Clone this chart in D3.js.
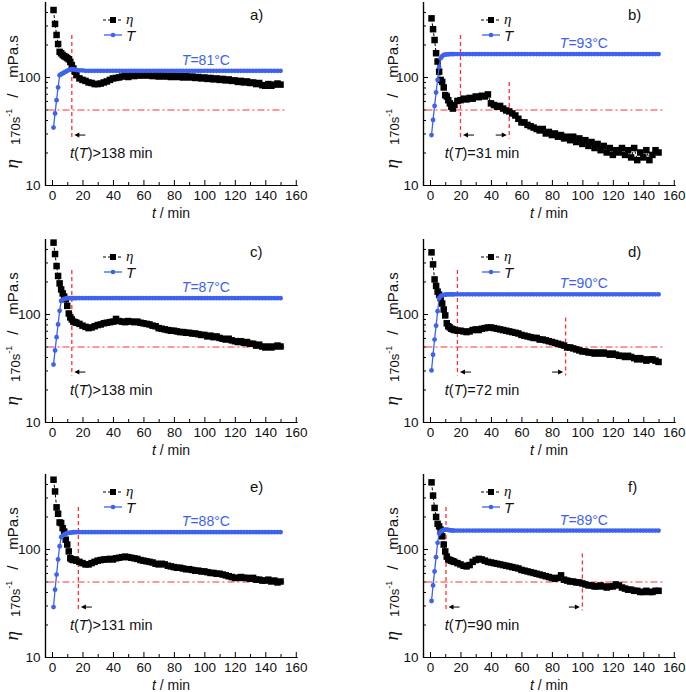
<!DOCTYPE html>
<html><head><meta charset="utf-8">
<script src="https://cdn.jsdelivr.net/npm/d3@7"></script>
<style>body{margin:0;background:#fff} svg{display:block;font-family:"Liberation Sans",Arial,sans-serif}</style>
</head><body><svg id="c" width="686" height="692"></svg>
<script>
// ---------------- data ----------------
const times = [
  1,2,3,4,5,6,7,8,9,10,
  11,12,13,14,15,16,18,20,22,24,
  26,28,30,32,34,36,38,40,42,44,
  46,48,50,52,54,56,58,60,62,64,
  66,68,70,72,74,76,78,80,82,84,
  86,88,90,92,94,96,98,100,102,104,
  106,108,110,112,114,116,118,120,122,124,
  126,128,130,132,134,136,138,140,142,144,
  146,148,150];

const etaA = [
  417,310,245,202,171,166,160,156,153,150,
  146,138,129,120,112,104,97,94,92,89,
  88,86,86,87,89,91,94,97,98,99,
  101,103,100,104,102,105,103,106,103,105,
  102,105,101,104,101,103,100,103,100,102,
  99,102,99,101,98,100,97,99,96,98,
  95,97,94,96,93,95,92,93,90,92,
  89,91,88,89,86,88,84,83,86,83,
  85,87,85];
const etaB = [
  349,277,220,166,139,112,94,90,80,68,
  66,61,57,53,51,55,60,61,63,62,
  64,63,66,65,67,66,69,57,55,53,
  54,51,49,48,46,44,41,38,38,36,
  35,34,33,32,33,30,31,29,30,28,
  29,27,28,26,28,25,27,24,26,23,
  25,22,24,21,23,20,22,19,21,20,
  22,19,21,18,22,17,20,18,21,17,
  19,21,20];
const etaC = [
  458,359,278,225,192,169,155,145,137,119,
  101,93,89,85,84,83,81,78,76,74,
  75,77,79,80,82,83,84,85,90,86,
  85,84,86,85,84,85,83,82,81,80,
  78,77,74,73,72,71,70,70,69,68,
  68,67,67,66,66,65,64,64,62,63,
  61,62,60,59,58,59,57,56,55,56,
  54,55,53,53,51,52,50,49,50,49,
  50,51,50];
const etaD = [
  372,288,209,182,161,151,140,125,110,97,
  82,77,75,73,72,71,70,70,69,68,
  69,71,72,71,73,74,75,75,74,73,
  72,71,70,69,68,67,66,64,63,62,
  61,60,60,58,58,57,56,55,54,53,
  52,51,49,49,48,47,46,45,45,44,
  44,43,44,43,44,43,42,43,42,41,
  41,40,41,40,39,38,39,38,37,38,
  38,37,36];
const etaE = [
  438,341,243,212,176,174,156,145,122,110,
  95,82,80,79,80,78,76,74,72,72,
  74,76,78,79,80,80,81,80,82,83,
  84,85,84,83,82,81,79,78,77,76,
  75,73,72,73,72,70,69,68,67,67,
  66,65,65,64,63,63,62,62,61,60,
  60,59,59,58,57,56,55,54,54,55,
  54,54,53,54,52,52,51,51,52,50,
  51,49,50];
const etaF = [
  414,312,240,198,171,162,151,131,110,95,
  85,80,79,78,77,76,74,72,70,69,
  71,76,79,81,80,78,76,75,74,73,
  72,71,70,69,68,67,66,64,63,62,
  61,60,59,58,57,56,55,54,53,54,
  57,52,51,50,50,49,49,48,47,46,
  46,45,45,46,45,44,45,45,47,46,
  44,43,42,42,41,41,40,40,41,40,
  40,41,41];

// temperature traces, in the plotted (left-axis) units
const tempA = [
  34,46,61,80,104,106,108,110,112,114,
  116,117,118,118,117,116,115,115,114,114,
  114,114,114,114,114,114,114,114,114,114,
  114,114,114,114,114,114,114,114,114,114,
  114,114,114,114,114,114,114,114,114,114,
  114,114,114,114,114,114,114,114,114,114,
  114,114,114,114,114,114,114,114,114,114,
  114,114,114,114,114,114,114,114,114,114,
  114,114,114];
const tempB = [
  29,40,54,72,94,124,149,156,160,161,
  162,162,163,163,163,163,163,163,163,163,
  163,163,163,163,163,163,163,163,163,163,
  163,163,163,163,163,163,163,163,163,163,
  163,163,163,163,163,163,163,163,163,163,
  163,163,163,163,163,163,163,163,163,163,
  163,163,163,163,163,163,163,163,163,163,
  163,163,163,163,163,163,163,163,163,163,
  163,163,163];
const tempC = [
  34,46,61,80,107,132,136,138,139,140,
  140,140,140,140,140,140,140,140,140,140,
  140,140,140,140,140,140,140,140,140,140,
  140,140,140,140,140,140,140,140,140,140,
  140,140,140,140,140,140,140,140,140,140,
  140,140,140,140,140,140,140,140,140,140,
  140,140,140,140,140,140,140,140,140,140,
  140,140,140,140,140,140,140,140,140,140,
  140,140,140];
const tempD = [
  30,42,58,78,106,140,146,149,150,151,
  152,152,152,152,152,152,152,152,152,152,
  152,152,152,152,152,152,152,152,152,152,
  152,152,152,152,152,152,152,152,152,152,
  152,152,152,152,152,152,152,152,152,152,
  152,152,152,152,152,152,152,152,152,152,
  152,152,152,152,152,152,152,152,152,152,
  152,152,152,152,152,152,152,152,152,152,
  152,152,152];
const tempE = [
  29,42,58,80,106,129,133,136,138,140,
  141,142,142,143,143,143,143,143,143,143,
  143,143,143,143,143,143,143,143,143,143,
  143,143,143,143,143,143,143,143,143,143,
  143,143,143,143,143,143,143,143,143,143,
  143,143,143,143,143,143,143,143,143,143,
  143,143,143,143,143,143,143,143,143,143,
  143,143,143,143,143,143,143,143,143,143,
  143,143,143];
const tempF = [
  33,46,62,84,114,139,145,148,150,151,
  151,150,149,149,148,148,148,148,148,148,
  148,148,148,148,148,148,148,148,148,148,
  148,148,148,148,148,148,148,148,148,148,
  148,148,148,148,148,148,148,148,148,148,
  148,148,148,148,148,148,148,148,148,148,
  148,148,148,148,148,148,148,148,148,148,
  148,148,148,148,148,148,148,148,148,148,
  148,148,148];

const panelLabels = ["a)","b)","c)","d)","e)","f)"];
const tempValues  = ["81","93","87","90","88","89"];
const tempPlateau = [114,163,140,152,143,148];
const timeTexts   = [">138 min","=31 min",">138 min","=72 min",">131 min","=90 min"];
const vlineTimes  = [[13],[20,52],[13],[18,89],[17.3],[10.5,100]];
const vlineTops   = [[245],[245,90],[255],[255,93],[245],[245,91]];
const vlineBottom = 27;
const arrowLevel  = 29;
const thresholdEta = 50;
const xTicksMajor = [0,20,40,60,80,100,120,140,160];
const xTicksMinor = [10,30,50,70,90,110,130,150];
const yTicksMajor = [10,100];
const yTicksMinor = [20,30,40,50,60,70,80,90,200,300,400];

const etaSeries  = [etaA,etaB,etaC,etaD,etaE,etaF];
const tempSeries = [tempA,tempB,tempC,tempD,tempE,tempF];

// ---------------- layout ----------------
const panelLeft   = [45,423,45,423,45,423];
const panelBottom = [185,185,422,422,657,657];
const titleOffset = [-27,-25.5,-27,-25.5,-27,-25.5];
const plotW = 252, plotH = 183.5;
const RED = "#ff3030", BLUE = "#3d62ee";

const svg = d3.select("#c");

for (let p = 0; p < 6; p++) {
  const L = panelLeft[p], B = panelBottom[p], T = B - plotH;
  const g = svg.append("g").attr("transform", `translate(${L},${T})`);
  const x = d3.scaleLinear().domain([-4.6, 160.8]).range([0, plotW]);
  const y = d3.scaleLog().domain([10, 500]).range([plotH, 0]);

  // axes
  g.append("g").attr("transform", `translate(0,${plotH})`)
    .call(d3.axisBottom(x).tickValues(xTicksMajor).tickSizeInner(-5).tickSizeOuter(0).tickPadding(5.5).tickFormat(d3.format("d")));
  g.append("g").attr("transform", `translate(0,${plotH})`)
    .call(d3.axisBottom(x).tickValues(xTicksMinor).tickSizeInner(-3).tickSizeOuter(0).tickFormat(""));
  g.append("g")
    .call(d3.axisLeft(y).tickValues(yTicksMajor).tickSizeInner(-5).tickSizeOuter(0).tickPadding(4.5).tickFormat(d3.format("d")));
  g.append("g")
    .call(d3.axisLeft(y).tickValues(yTicksMinor).tickSizeInner(-3).tickSizeOuter(0).tickFormat(""));
  g.selectAll(".domain").attr("stroke", "#000").attr("stroke-width", 1.2);
  g.selectAll(".tick line").attr("stroke", "#000").attr("stroke-width", 1);
  g.selectAll(".tick text").attr("font-size", 13.5).attr("fill", "#111")
    .attr("font-family", '"Liberation Sans",Arial,sans-serif');

  // axis titles
  const xt = g.append("text").attr("x", plotW / 2).attr("y", plotH + 32.5)
    .attr("text-anchor", "middle").attr("font-size", 14).attr("fill", "#111");
  xt.append("tspan").attr("font-style", "italic").text("t");
  xt.append("tspan").text(" / min");

  const yt = g.append("text")
    .attr("transform", `translate(${titleOffset[p]},${plotH - 16.5}) rotate(-90)`)
    .attr("text-anchor", "start").attr("fill", "#111").attr("font-size", 15);
  yt.append("tspan").attr("font-family", '"Liberation Serif",serif').attr("font-style", "italic").attr("font-size", 19).text("η");
  yt.append("tspan").attr("font-size", 13).attr("dy", 1.5).attr("dx", 14).text("170s");
  yt.append("tspan").attr("font-size", 9).attr("dy", -7.5).text("-1");
  yt.append("tspan").attr("font-size", 15).attr("dy", 6).attr("dx", 11).text("/");
  yt.append("tspan").attr("font-size", 15).attr("dx", 16).text("mPa.s");

  // threshold line (dash-dot)
  g.append("line").attr("x1", x(-3)).attr("x2", x(153))
    .attr("y1", Math.round(y(thresholdEta)) + 0.5).attr("y2", Math.round(y(thresholdEta)) + 0.5)
    .attr("stroke", RED).attr("stroke-width", 1.2).attr("stroke-dasharray", "7,3,2,3");

  // vertical dashed lines and arrows
  vlineTimes[p].forEach((tv, i) => {
    g.append("line").attr("x1", x(tv)).attr("x2", x(tv))
      .attr("y1", y(vlineTops[p][i])).attr("y2", y(vlineBottom))
      .attr("stroke", RED).attr("stroke-width", 1.3).attr("stroke-dasharray", "4,3");
    const ay = y(arrowLevel);
    let tip, tail;
    if (i === 0) { tip = x(tv) + 2.5; tail = tip + 11; }
    else { tip = x(tv) - 2.5; tail = tip - 11; }
    const dir = Math.sign(tip - tail);
    g.append("line").attr("x1", tail).attr("x2", tip - dir * 3).attr("y1", ay).attr("y2", ay)
      .attr("stroke", "#000").attr("stroke-width", 1);
    g.append("path")
      .attr("d", `M${tip},${ay} L${tip - dir * 5},${ay - 2.5} L${tip - dir * 5},${ay + 2.5} Z`)
      .attr("fill", "#000");
  });

  // eta series
  const data = times.map((t, i) => ({ t, v: etaSeries[p][i] }));
  g.append("path").datum(data)
    .attr("d", d3.line().x(d => x(d.t)).y(d => y(d.v)))
    .attr("fill", "none").attr("stroke", "#000").attr("stroke-width", 1).attr("stroke-dasharray", "3,2");
  g.selectAll("rect.eta").data(data).join("rect").attr("class", "eta")
    .attr("x", d => x(d.t) - 3.25).attr("y", d => y(d.v) - 3.25)
    .attr("width", 6.5).attr("height", 6.5).attr("fill", "#000");

  // temperature series
  const tdata = times.map((t, i) => ({ t, v: tempSeries[p][i] }));
  g.append("path").datum(tdata)
    .attr("d", d3.line().x(d => x(d.t)).y(d => y(d.v)))
    .attr("fill", "none").attr("stroke", BLUE).attr("stroke-width", 1.3);
  g.selectAll("circle.temp").data(tdata).join("circle").attr("class", "temp")
    .attr("cx", d => x(d.t)).attr("cy", d => y(d.v)).attr("r", 2.4).attr("fill", BLUE);

  // temperature label
  const tl = g.append("text").attr("x", x(101)).attr("y", y(tempPlateau[p]) - 6)
    .attr("text-anchor", "middle").attr("font-size", 14).attr("fill", BLUE);
  tl.append("tspan").attr("font-style", "italic").text("T");
  tl.append("tspan").text("=" + tempValues[p] + "°C");

  // time annotation
  const ta = g.append("text").attr("x", p % 2 === 0 ? x(11.8) : x(9.7)).attr("y", plotH - 27)
    .attr("font-size", 14.5).attr("fill", "#111");
  ta.append("tspan").attr("font-style", "italic").text("t");
  ta.append("tspan").text("(");
  ta.append("tspan").attr("font-style", "italic").text("T");
  ta.append("tspan").text(")" + timeTexts[p]);

  // panel label
  g.append("text").attr("x", 205).attr("y", 18.5).attr("font-size", 15).attr("fill", "#111").text(panelLabels[p]);

  // legend
  const lg = g.append("g");
  const ly1 = 18.5, ly2 = 33.5;
  lg.append("line").attr("x1", 58).attr("x2", 77).attr("y1", ly1).attr("y2", ly1)
    .attr("stroke", "#000").attr("stroke-width", 1).attr("stroke-dasharray", "3,2");
  lg.append("rect").attr("x", 68 - 3).attr("y", ly1 - 3).attr("width", 6).attr("height", 6).attr("fill", "#000");
  lg.append("text").attr("x", 81).attr("y", ly1 + 3.5).attr("font-size", 15)
    .attr("font-family", '"Liberation Serif",serif').attr("font-style", "italic").attr("fill", "#111").text("η");
  lg.append("line").attr("x1", 59).attr("x2", 77).attr("y1", ly2).attr("y2", ly2)
    .attr("stroke", BLUE).attr("stroke-width", 1.3);
  lg.append("circle").attr("cx", 68).attr("cy", ly2).attr("r", 2.3).attr("fill", BLUE);
  lg.append("text").attr("x", 81).attr("y", ly2 + 6).attr("font-size", 15)
    .attr("font-style", "italic").attr("fill", "#111").text("T");
}
</script></body></html>
